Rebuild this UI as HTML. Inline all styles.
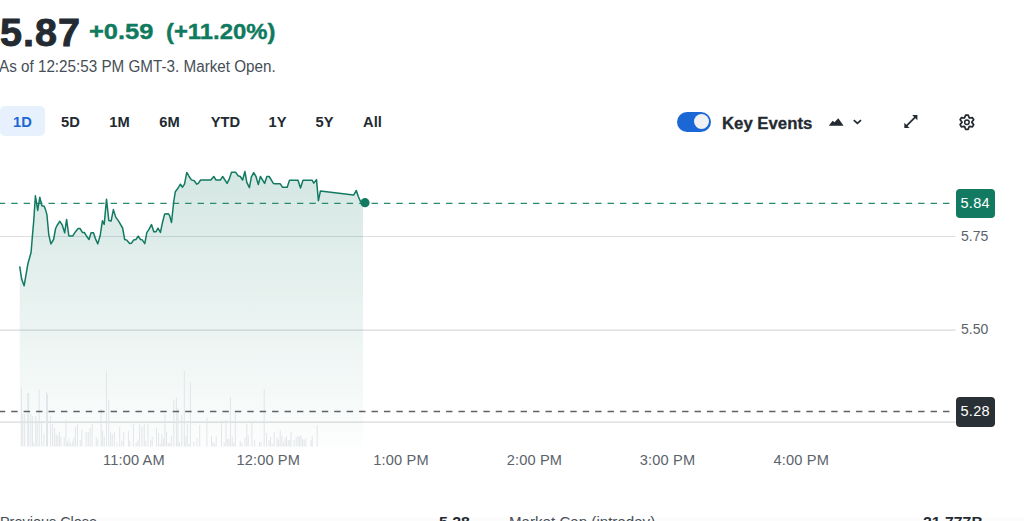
<!DOCTYPE html>
<html><head><meta charset="utf-8">
<style>
*{margin:0;padding:0;box-sizing:border-box}
html,body{width:1024px;height:521px;overflow:hidden;background:#fff;font-family:"Liberation Sans",sans-serif;color:#232a31}
.a{position:absolute;white-space:nowrap}
#price{left:-0.4px;top:10px;font-size:38.6px;font-weight:700;line-height:46px;letter-spacing:1px;transform-origin:0 0;transform:scaleX(1.025);-webkit-text-stroke:0.9px #232a31}
#chg,#chg2{left:88.5px;top:19.2px;font-size:22px;font-weight:700;line-height:26px;color:#0f7a5e;transform-origin:0 0;transform:scaleX(1.157);-webkit-text-stroke:0.4px #0f7a5e}
#chg2{left:165.7px;transform:scaleX(1.084)}
#asof{left:-0.6px;top:58.2px;font-size:15.8px;line-height:17px;color:#464e56;transform-origin:0 0;transform:scaleX(0.964)}
.rb{top:106.2px;height:29.6px;line-height:32.4px;font-size:14.7px;font-weight:700;color:#232a31;text-align:center}
#r1d{left:0;width:45px;background:#e7f1fd;color:#1b67d6;border-radius:5px}
#toggle{left:676.6px;top:112px;width:34.6px;height:19.6px;border-radius:10px;background:#1b67d6}
#knob{left:694px;top:114px;width:15.2px;height:15.2px;border-radius:50%;background:#f0f1f3}
#ke{left:721.8px;top:113px;font-size:17px;font-weight:700;line-height:22px;transform-origin:0 0;transform:scaleX(0.985);-webkit-text-stroke:0.3px #232a31}
.yl{font-size:14px;line-height:16px;color:#5b636a}
.xl{top:451.8px;font-size:14.6px;line-height:17px;color:#5b636a;letter-spacing:0.15px}
.tag{left:956px;width:38.5px;height:29.5px;border-radius:4px;color:#fff;font-size:14.5px;line-height:29px;padding-left:4.4px;letter-spacing:0.35px}
.st{top:512.9px;font-size:15px;line-height:17px;transform-origin:0 0}
.band{left:0;top:518px;width:1024px;height:3px;background:#fcfcfc}
</style></head><body>
<div class="a" id="price">5.87</div>
<div class="a" id="chg">+0.59</div><div class="a" id="chg2">(+11.20%)</div>
<div class="a" id="asof">As of 12:25:53 PM GMT-3. Market Open.</div>

<div class="a rb" id="r1d">1D</div>
<div class="a rb" style="left:52px;width:37px">5D</div>
<div class="a rb" style="left:101px;width:37px">1M</div>
<div class="a rb" style="left:151px;width:37px">6M</div>
<div class="a rb" style="left:205px;width:41px">YTD</div>
<div class="a rb" style="left:259px;width:37px">1Y</div>
<div class="a rb" style="left:306px;width:37px">5Y</div>
<div class="a rb" style="left:354px;width:37px">All</div>

<div class="a" id="toggle"></div>
<div class="a" id="knob"></div>
<div class="a" id="ke">Key Events</div>

<svg class="a" style="left:0;top:0" width="1024" height="521" viewBox="0 0 1024 521">
  <!-- mountain -->
  <path d="M828.8,125.7 L832.6,120.7 L834.5,122.3 L838.3,118.2 L843.6,125.7 Z" fill="#232a31"/>
  <!-- chevron -->
  <path d="M853.8,120.2 L857.4,123.4 L861,120.2" fill="none" stroke="#232a31" stroke-width="1.75"/>
  <!-- expand -->
  <g fill="#232a31">
    <path d="M912.2,115.1 H917.4 V120.3 Z"/>
    <path d="M904.3,122.8 V128.0 H909.5 Z"/>
  </g>
  <path d="M906,126.3 L915.7,116.6" stroke="#232a31" stroke-width="1.7"/>
  <!-- gear -->
  <g transform="translate(966.9,122.2)" fill="none" stroke="#232a31" stroke-width="1.75" stroke-linejoin="round">
    <path d="M-2.30,-4.40 L-1.25,-7.10 L1.25,-7.10 L2.30,-4.40 L2.66,-4.19 L5.52,-4.63 L6.77,-2.47 L4.96,-0.21 L4.96,0.21 L6.77,2.47 L5.52,4.63 L2.66,4.19 L2.30,4.40 L1.25,7.10 L-1.25,7.10 L-2.30,4.40 L-2.66,4.19 L-5.52,4.63 L-6.77,2.47 L-4.96,0.21 L-4.96,-0.21 L-6.77,-2.47 L-5.52,-4.63 L-2.66,-4.19 Z"/>
    <circle r="2.25" stroke-width="1.5"/>
  </g>

  <defs>
    <linearGradient id="fg" x1="0" y1="170" x2="0" y2="447" gradientUnits="userSpaceOnUse">
      <stop offset="0" stop-color="#137a62" stop-opacity="0.18"/>
      <stop offset="1" stop-color="#137a62" stop-opacity="0.01"/>
    </linearGradient>
  </defs>
  <!-- grid lines -->
  <g stroke="#dedfe1" stroke-width="1">
    <line x1="0" y1="236.5" x2="955.5" y2="236.5"/>
  </g>
  <g stroke="#d9dadc" stroke-width="1.15">
    <line x1="0" y1="330.05" x2="955.5" y2="330.05"/>
    <line x1="0" y1="422.05" x2="955.5" y2="422.05"/>
  </g>
  <!-- fill -->
  <path d="M19.7,266.3 L21.7,279.3 L24.1,285.8 L27.8,264.3 L31.1,252.2 L32.4,236.1 L33.8,220.0 L35.4,195.8 L37.7,210.4 L39.8,197.3 L41.9,205.8 L44.2,206.2 L45.8,210.4 L46.9,214.6 L48.8,234.8 L50.9,243.9 L53.6,239.5 L55.6,228.5 L57.5,224.7 L59.9,221.3 L62.3,225.2 L64.7,232.8 L66.6,219.4 L68.8,235.7 L70.0,235.9 L72.8,235.9 L75.7,231.4 L78.1,228.5 L80.0,228.5 L82.4,232.4 L84.3,232.5 L86.3,235.7 L89.0,239.5 L91.1,232.8 L93.5,232.8 L95.4,238.6 L97.8,243.9 L100.2,235.5 L102.4,220.8 L104.2,224.4 L106.5,199.2 L108.8,220.5 L111.1,221.1 L113.4,209.6 L115.7,217.1 L118.6,221.1 L122.6,228.0 L124.7,239.5 L126.7,240.1 L129.6,243.6 L131.3,243.2 L133.6,240.1 L135.9,239.5 L138.2,236.1 L140.5,239.5 L142.2,239.8 L144.8,243.6 L146.8,232.6 L149.1,229.2 L151.5,224.6 L153.8,231.7 L156.1,231.7 L158.0,228.2 L160.4,232.5 L162.3,223.3 L164.6,214.1 L168.4,213.8 L169.6,215.6 L171.5,222.5 L173.8,201.0 L175.3,191.8 L177.6,188.8 L180.4,184.2 L182.5,187.2 L184.5,184.2 L186.8,172.4 L189.1,176.5 L191.4,179.9 L194.2,180.8 L196.8,184.2 L198.3,183.4 L200.6,180.0 L210.8,180.1 L213.8,176.5 L216.1,180.1 L220.3,180.1 L222.7,176.5 L227.1,183.4 L229.2,179.2 L231.5,172.3 L235.7,172.3 L238.0,175.7 L240.3,176.5 L242.6,180.0 L244.9,171.5 L246.8,182.3 L249.4,187.6 L251.4,176.9 L253.7,172.7 L256.0,176.5 L258.3,184.6 L260.4,176.5 L264.6,183.4 L266.9,176.5 L269.2,176.5 L273.4,183.4 L275.3,183.8 L280.3,183.8 L282.6,187.3 L287.2,187.3 L289.5,180.3 L298.0,180.3 L300.5,188.0 L303.0,180.3 L312.2,180.3 L313.8,183.1 L316.5,179.6 L318.4,200.7 L320.4,191.1 L353.6,195.1 L356.3,190.5 L358.3,196.5 L360.7,201.9 L363.0,202.5 L363.0,447 L19.7,447 Z" fill="url(#fg)"/>
  <!-- volume -->
  <g fill="#e2e5e9"><rect x="20.9" y="387.4" width="1" height="59.1"/><rect x="22.3" y="413.6" width="1" height="32.9"/><rect x="24.2" y="413.6" width="1" height="32.9"/><rect x="27.3" y="392.8" width="1" height="53.7"/><rect x="28.2" y="393.0" width="1" height="53.5"/><rect x="30.3" y="413.6" width="1" height="32.9"/><rect x="31.9" y="416.0" width="1" height="30.5"/><rect x="35.3" y="416.0" width="1" height="30.5"/><rect x="36.6" y="421.0" width="1" height="25.5"/><rect x="38.7" y="389.7" width="1" height="56.8"/><rect x="41.1" y="421.6" width="1" height="24.9"/><rect x="43.4" y="433.7" width="1" height="12.8"/><rect x="46.0" y="392.0" width="1" height="54.5"/><rect x="47.0" y="394.0" width="1" height="52.5"/><rect x="50.1" y="416.0" width="1" height="30.5"/><rect x="52.1" y="424.0" width="1" height="22.5"/><rect x="54.1" y="428.0" width="1" height="18.5"/><rect x="65.5" y="420.0" width="1" height="26.5"/><rect x="74.9" y="427.0" width="1" height="19.5"/><rect x="76.9" y="424.0" width="1" height="22.5"/><rect x="85.6" y="432.0" width="1" height="14.5"/><rect x="89.6" y="428.0" width="1" height="18.5"/><rect x="91.6" y="424.0" width="1" height="22.5"/><rect x="100.6" y="409.0" width="1" height="37.5"/><rect x="106.0" y="371.0" width="1" height="75.5"/><rect x="108.2" y="400.0" width="1" height="46.5"/><rect x="113.8" y="432.0" width="1" height="14.5"/><rect x="119.2" y="427.0" width="1" height="19.5"/><rect x="123.2" y="432.0" width="1" height="14.5"/><rect x="127.9" y="431.0" width="1" height="15.5"/><rect x="132.9" y="423.7" width="1" height="22.8"/><rect x="139.1" y="423.7" width="1" height="22.8"/><rect x="141.4" y="426.7" width="1" height="19.8"/><rect x="143.7" y="423.7" width="1" height="22.8"/><rect x="147.5" y="423.7" width="1" height="22.8"/><rect x="155.9" y="428.0" width="1" height="18.5"/><rect x="161.3" y="434.0" width="1" height="12.5"/><rect x="164.4" y="414.5" width="1" height="32.0"/><rect x="173.3" y="400.0" width="1" height="46.5"/><rect x="175.9" y="397.6" width="1" height="48.9"/><rect x="177.4" y="408.0" width="1" height="38.5"/><rect x="181.3" y="414.5" width="1" height="32.0"/><rect x="183.8" y="370.8" width="1" height="75.7"/><rect x="186.9" y="423.8" width="1" height="22.7"/><rect x="189.9" y="382.0" width="1" height="64.5"/><rect x="199.2" y="425.0" width="1" height="21.5"/><rect x="206.4" y="417.6" width="1" height="28.9"/><rect x="211.0" y="436.0" width="1" height="10.5"/><rect x="221.0" y="420.7" width="1" height="25.8"/><rect x="225.5" y="420.0" width="1" height="26.5"/><rect x="229.9" y="396.9" width="1" height="49.6"/><rect x="234.8" y="413.0" width="1" height="33.5"/><rect x="246.3" y="423.8" width="1" height="22.7"/><rect x="251.4" y="422.0" width="1" height="24.5"/><rect x="263.7" y="389.2" width="1" height="57.3"/><rect x="266.0" y="433.0" width="1" height="13.5"/><rect x="273.7" y="432.0" width="1" height="14.5"/><rect x="281.4" y="436.0" width="1" height="10.5"/><rect x="286.0" y="436.0" width="1" height="10.5"/><rect x="290.5" y="432.0" width="1" height="14.5"/><rect x="293.5" y="440.0" width="1" height="6.5"/><rect x="297.5" y="436.0" width="1" height="10.5"/><rect x="303.6" y="440.0" width="1" height="6.5"/><rect x="310.5" y="440.0" width="1" height="6.5"/><rect x="316.7" y="425.0" width="1" height="21.5"/><rect x="33.3" y="442.8" width="1" height="3.7"/><rect x="55.7" y="434.0" width="1" height="12.5"/><rect x="57.3" y="436.0" width="1" height="10.5"/><rect x="58.9" y="432.0" width="1" height="14.5"/><rect x="60.5" y="436.4" width="1" height="10.1"/><rect x="63.7" y="437.1" width="1" height="9.4"/><rect x="66.9" y="441.5" width="1" height="5.0"/><rect x="68.5" y="438.9" width="1" height="7.6"/><rect x="70.1" y="443.5" width="1" height="3.0"/><rect x="71.7" y="441.5" width="1" height="5.0"/><rect x="73.3" y="437.6" width="1" height="8.9"/><rect x="79.7" y="439.8" width="1" height="6.7"/><rect x="81.3" y="429.6" width="1" height="16.9"/><rect x="87.7" y="432.1" width="1" height="14.4"/><rect x="95.7" y="437.0" width="1" height="9.5"/><rect x="97.3" y="439.4" width="1" height="7.1"/><rect x="102.1" y="430.5" width="1" height="16.0"/><rect x="103.7" y="436.1" width="1" height="10.4"/><rect x="110.1" y="431.9" width="1" height="14.6"/><rect x="111.7" y="434.5" width="1" height="12.0"/><rect x="116.5" y="442.0" width="1" height="4.5"/><rect x="121.3" y="440.4" width="1" height="6.1"/><rect x="129.3" y="440.7" width="1" height="5.8"/><rect x="135.7" y="442.6" width="1" height="3.9"/><rect x="137.3" y="439.3" width="1" height="7.2"/><rect x="145.3" y="441.0" width="1" height="5.5"/><rect x="150.1" y="439.9" width="1" height="6.6"/><rect x="151.7" y="436.8" width="1" height="9.7"/><rect x="158.1" y="433.0" width="1" height="13.5"/><rect x="159.7" y="443.5" width="1" height="3.0"/><rect x="162.9" y="438.7" width="1" height="7.8"/><rect x="166.1" y="431.8" width="1" height="14.7"/><rect x="167.7" y="442.8" width="1" height="3.7"/><rect x="169.3" y="443.0" width="1" height="3.5"/><rect x="170.9" y="435.5" width="1" height="11.0"/><rect x="178.9" y="441.9" width="1" height="4.6"/><rect x="185.3" y="436.4" width="1" height="10.1"/><rect x="188.5" y="443.8" width="1" height="2.7"/><rect x="193.3" y="441.9" width="1" height="4.6"/><rect x="196.5" y="437.8" width="1" height="8.7"/><rect x="212.5" y="442.2" width="1" height="4.3"/><rect x="214.1" y="443.8" width="1" height="2.7"/><rect x="215.7" y="436.3" width="1" height="10.2"/><rect x="223.7" y="442.2" width="1" height="4.3"/><rect x="226.9" y="439.0" width="1" height="7.5"/><rect x="228.5" y="438.8" width="1" height="7.7"/><rect x="231.7" y="436.7" width="1" height="9.8"/><rect x="233.3" y="442.6" width="1" height="3.9"/><rect x="239.7" y="440.8" width="1" height="5.7"/><rect x="241.3" y="443.0" width="1" height="3.5"/><rect x="244.5" y="437.4" width="1" height="9.1"/><rect x="247.7" y="435.5" width="1" height="11.0"/><rect x="254.1" y="439.8" width="1" height="6.7"/><rect x="258.9" y="442.0" width="1" height="4.5"/><rect x="260.5" y="441.9" width="1" height="4.6"/><rect x="268.5" y="440.3" width="1" height="6.2"/><rect x="270.1" y="436.7" width="1" height="9.8"/><rect x="271.7" y="443.9" width="1" height="2.6"/><rect x="276.5" y="437.6" width="1" height="8.9"/><rect x="278.1" y="439.5" width="1" height="7.0"/><rect x="279.7" y="430.4" width="1" height="16.1"/><rect x="282.9" y="441.8" width="1" height="4.7"/><rect x="284.5" y="437.9" width="1" height="8.6"/><rect x="287.7" y="440.0" width="1" height="6.5"/><rect x="289.3" y="439.7" width="1" height="6.8"/><rect x="295.7" y="437.0" width="1" height="9.5"/><rect x="298.9" y="436.5" width="1" height="10.0"/><rect x="300.5" y="435.0" width="1" height="11.5"/><rect x="302.1" y="438.6" width="1" height="7.9"/><rect x="305.3" y="438.3" width="1" height="8.2"/><rect x="311.7" y="436.4" width="1" height="10.1"/></g>
  <!-- dashed lines -->
  <line x1="-1.2" y1="203.3" x2="955" y2="203.3" stroke="#2a8a70" stroke-width="1.3" stroke-dasharray="6.4 6.024"/>
  <line x1="-1.2" y1="411.5" x2="955" y2="411.5" stroke="#5e6266" stroke-width="1.3" stroke-dasharray="6.4 6.024"/>
  <!-- line -->
  <path d="M19.7,266.3 L21.7,279.3 L24.1,285.8 L27.8,264.3 L31.1,252.2 L32.4,236.1 L33.8,220.0 L35.4,195.8 L37.7,210.4 L39.8,197.3 L41.9,205.8 L44.2,206.2 L45.8,210.4 L46.9,214.6 L48.8,234.8 L50.9,243.9 L53.6,239.5 L55.6,228.5 L57.5,224.7 L59.9,221.3 L62.3,225.2 L64.7,232.8 L66.6,219.4 L68.8,235.7 L70.0,235.9 L72.8,235.9 L75.7,231.4 L78.1,228.5 L80.0,228.5 L82.4,232.4 L84.3,232.5 L86.3,235.7 L89.0,239.5 L91.1,232.8 L93.5,232.8 L95.4,238.6 L97.8,243.9 L100.2,235.5 L102.4,220.8 L104.2,224.4 L106.5,199.2 L108.8,220.5 L111.1,221.1 L113.4,209.6 L115.7,217.1 L118.6,221.1 L122.6,228.0 L124.7,239.5 L126.7,240.1 L129.6,243.6 L131.3,243.2 L133.6,240.1 L135.9,239.5 L138.2,236.1 L140.5,239.5 L142.2,239.8 L144.8,243.6 L146.8,232.6 L149.1,229.2 L151.5,224.6 L153.8,231.7 L156.1,231.7 L158.0,228.2 L160.4,232.5 L162.3,223.3 L164.6,214.1 L168.4,213.8 L169.6,215.6 L171.5,222.5 L173.8,201.0 L175.3,191.8 L177.6,188.8 L180.4,184.2 L182.5,187.2 L184.5,184.2 L186.8,172.4 L189.1,176.5 L191.4,179.9 L194.2,180.8 L196.8,184.2 L198.3,183.4 L200.6,180.0 L210.8,180.1 L213.8,176.5 L216.1,180.1 L220.3,180.1 L222.7,176.5 L227.1,183.4 L229.2,179.2 L231.5,172.3 L235.7,172.3 L238.0,175.7 L240.3,176.5 L242.6,180.0 L244.9,171.5 L246.8,182.3 L249.4,187.6 L251.4,176.9 L253.7,172.7 L256.0,176.5 L258.3,184.6 L260.4,176.5 L264.6,183.4 L266.9,176.5 L269.2,176.5 L273.4,183.4 L275.3,183.8 L280.3,183.8 L282.6,187.3 L287.2,187.3 L289.5,180.3 L298.0,180.3 L300.5,188.0 L303.0,180.3 L312.2,180.3 L313.8,183.1 L316.5,179.6 L318.4,200.7 L320.4,191.1 L353.6,195.1 L356.3,190.5 L358.3,196.5 L360.7,201.9 L363.0,202.5" fill="none" stroke="#137a62" stroke-width="1.5" stroke-linejoin="round"/>
  <circle cx="365" cy="202.7" r="4.6" fill="#137a62"/>
</svg>

<div class="a tag" style="top:188.5px;background:#137a62">5.84</div>
<div class="a yl" style="left:961px;top:228px">5.75</div>
<div class="a yl" style="left:961px;top:321px">5.50</div>
<div class="a tag" style="top:397px;background:#2a3136">5.28</div>

<div class="a xl" style="left:103px">11:00 AM</div>
<div class="a xl" style="left:236.4px">12:00 PM</div>
<div class="a xl" style="left:373.3px">1:00 PM</div>
<div class="a xl" style="left:506.7px">2:00 PM</div>
<div class="a xl" style="left:639.8px">3:00 PM</div>
<div class="a xl" style="left:773.6px">4:00 PM</div>

<div class="a band"></div>
<div class="a st" style="left:-0.5px;color:#464e56;transform:scaleX(0.962)">Previous Close</div>
<div class="a st" style="left:439.4px;font-weight:700;transform:scaleX(1.061)">5.28</div>
<div class="a st" style="left:509px;color:#464e56;transform:scaleX(1.008)">Market Cap (intraday)</div>
<div class="a st" style="left:923px;font-weight:700;transform:scaleX(1.055)">21.777B</div>
</body></html>
